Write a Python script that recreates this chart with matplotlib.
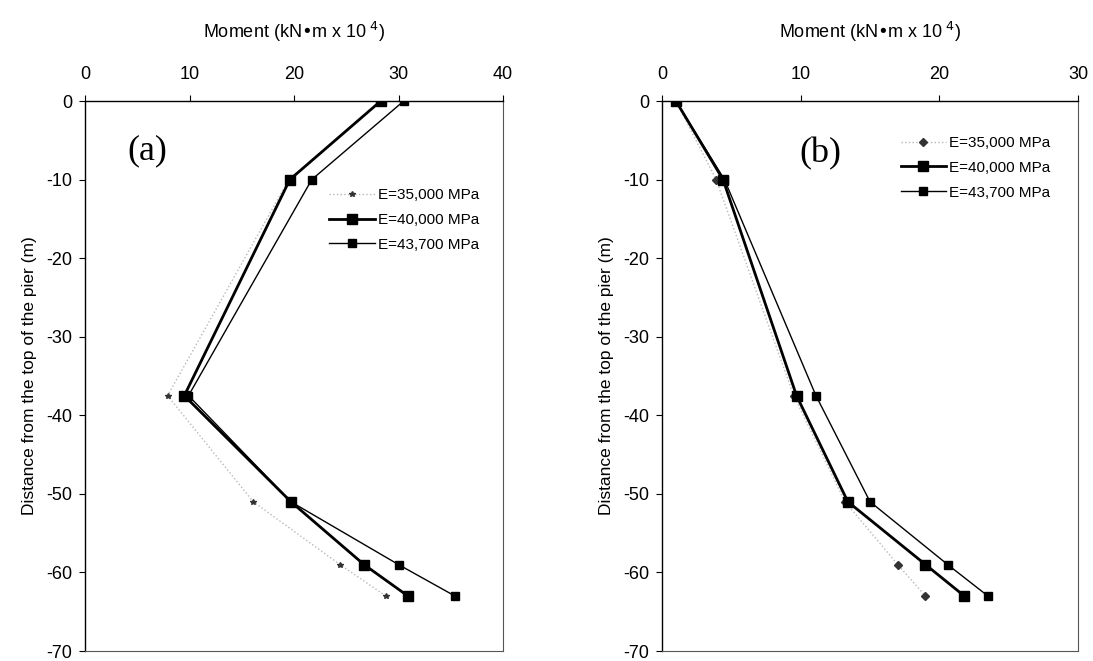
import numpy as np
from matplotlib import pyplot as plt

plt.rcParams['font.family'] = ['Liberation Sans', 'DejaVu Sans']
plt.rcParams['axes.unicode_minus'] = False

# depth below the top of the pier (m)
depth = [0, -10, -37.5, -51, -59, -63]

# panel (a) moments (kN*m x 10^4)
a_35000 = [28.3, 19.5, 7.9, 16.1, 24.4, 28.8]
a_40000 = [28.3, 19.6, 9.5, 19.7, 26.7, 30.9]
a_43700 = [30.5, 21.7, 9.9, 19.7, 30.0, 35.4]

# panel (b) moments
b_35000 = [1.0, 3.9, 9.5, 13.2, 17.0, 19.0]
b_40000 = [1.0, 4.4, 9.7, 13.4, 19.0, 21.8]
b_43700 = [1.0, 4.5, 11.1, 15.0, 20.6, 23.5]

labels = ["E=35,000 MPa", "E=40,000 MPa", "E=43,700 MPa"]
x_ticks_a = [0, 10, 20, 30, 40]
x_ticks_b = [0, 10, 20, 30]
y_ticks = [0, -10, -20, -30, -40, -50, -60, -70]


def draw_panel(ax, s1, s2, s3, xmax, xticks, light_marker, tag, tag_pos, leg_pos):
    ax.plot(s1, depth, color='#b8b8b8', linestyle=':', linewidth=1.0,
            marker=light_marker, markersize=4, markerfacecolor='#333333',
            markeredgecolor='#333333', label=labels[0])
    ax.plot(s2, depth, color='black', linewidth=2.0, marker='s',
            markersize=7, label=labels[1])
    ax.plot(s3, depth, color='black', linewidth=1.0, marker='s',
            markersize=5.5, label=labels[2])

    ax.set_xlim(0, xmax)
    ax.set_ylim(-70, 0)
    ax.set_xticks(xticks)
    ax.set_yticks(y_ticks)
    ax.xaxis.tick_top()
    ax.xaxis.set_label_position('top')
    ax.tick_params(axis='both', labelsize=13, direction='out', length=4, width=0.8)
    ax.tick_params(axis='x', pad=9)
    ax.tick_params(axis='y', pad=5)
    ax.set_xlabel("Moment (kN\u2022m x 10$^{\\ 4}$)", fontsize=13, labelpad=20)
    ax.set_ylabel("Distance from the top of the pier (m)", fontsize=12.5, labelpad=7)
    for side in ['top', 'left']:
        ax.spines[side].set_color('black')
        ax.spines[side].set_linewidth(1.0)
    for side in ['right', 'bottom']:
        ax.spines[side].set_color('#555555')
        ax.spines[side].set_linewidth(0.8)

    ax.text(tag_pos[0], tag_pos[1], tag, transform=ax.transAxes, fontsize=26,
            family='Liberation Serif', ha='center', va='center')
    ax.legend(loc='upper left', bbox_to_anchor=leg_pos, frameon=False,
              fontsize=11, handlelength=3.0, handletextpad=0.2,
              labelspacing=0.7, borderpad=0)


fig = plt.figure(figsize=(10.93, 6.61), dpi=100)
ax_a = fig.add_axes([0.0778, 0.0151, 0.3824, 0.8321])
ax_b = fig.add_axes([0.6057, 0.0151, 0.3806, 0.8321])

draw_panel(ax_a, a_35000, a_40000, a_43700, 40, x_ticks_a, '*', '(a)',
           (0.15, 0.91), (0.565, 0.855))
draw_panel(ax_b, b_35000, b_40000, b_43700, 30, x_ticks_b, 'D', '(b)',
           (0.38, 0.905), (0.555, 0.95))

fig.savefig('out.png', dpi=100)
